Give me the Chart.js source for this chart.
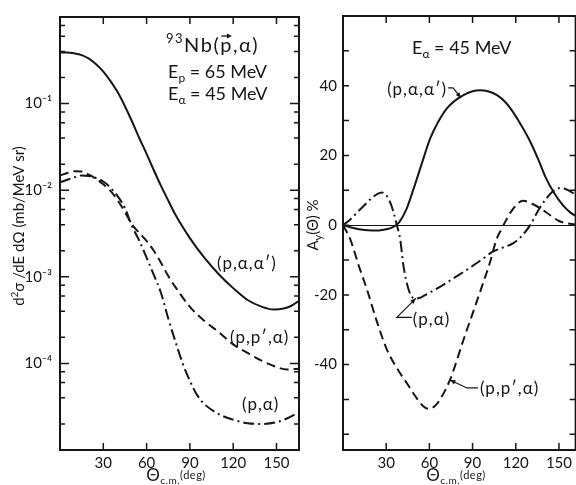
<!DOCTYPE html>
<html>
<head>
<meta charset="utf-8">
<script src="https://cdn.jsdelivr.net/npm/chart.js@4.4.1/dist/chart.umd.min.js"></script>
<style>
  html, body { margin: 0; padding: 0; background: #fff; }
  #wrap { position: relative; width: 576px; height: 485px; }
  #wrap canvas { position: absolute; left: 0; top: 0; }
</style>
</head>
<body>
<div id="wrap">
  <canvas id="sigmaChart" width="576" height="485"></canvas>
  <canvas id="ayChart" width="576" height="485"></canvas>
</div>
<script>
// left panel: d2sigma/dE dOmega (mb/MeV sr) vs theta c.m. (deg)
const angleAAP = [0, 5, 10, 15, 20, 25, 30, 35, 40, 45, 50, 55, 60, 65, 70, 75, 80, 90, 100, 110, 120, 130, 140, 148, 155, 160, 165];
const sigmaAAP = [0.389, 0.389, 0.380, 0.363, 0.331, 0.285, 0.234, 0.182, 0.135, 0.0933, 0.0617, 0.0398, 0.0263, 0.017, 0.0112, 0.0076, 0.0052, 0.0028, 0.00166, 0.00107, 0.00074, 0.00054, 0.00045, 0.00042, 0.00043, 0.00046, 0.00052];

const anglePPA = [0, 5, 10, 15, 20, 25, 30, 35, 40, 45, 50, 55, 60, 65, 70, 75, 80, 90, 100, 110, 120, 130, 140, 150, 157, 165];
const sigmaPPA = [0.0148, 0.0158, 0.0166, 0.0164, 0.0151, 0.0135, 0.0117, 0.0098, 0.0076, 0.0056, 0.0040, 0.0032, 0.0026, 0.0020, 0.00145, 0.00102, 0.00076, 0.00045, 0.00031, 0.00023, 0.000166, 0.000132, 0.000107, 0.000091, 0.000085, 0.000087];

const anglePA = [0, 5, 10, 15, 20, 25, 30, 35, 40, 45, 50, 55, 60, 65, 70, 75, 80, 85, 90, 95, 100, 110, 120, 130, 140, 150, 158, 165];
const sigmaPA = [0.0123, 0.0132, 0.0141, 0.0148, 0.0146, 0.0138, 0.0126, 0.0107, 0.0085, 0.0062, 0.0038, 0.0026, 0.00166, 0.00105, 0.00065, 0.00033, 0.000178, 0.0001, 0.000063, 0.000043, 0.000034, 0.000026, 0.0000224, 0.0000204, 0.00002, 0.0000209, 0.0000234, 0.0000269];

// right panel: analysing power Ay (%) vs theta c.m. (deg)
const angleAyAAP = [0, 5, 10, 15, 20, 25, 30, 35, 39, 44, 49, 55, 60.5, 66, 72, 78, 84, 90, 95, 100, 107, 113, 118, 124, 130, 136, 141, 147, 153, 158, 162];
const ayAAP = [0, -0.6, -1.1, -1.4, -1.5, -1.5, -1.2, -0.5, 0.8, 4.5, 10.4, 18, 24.8, 29.5, 33.4, 35.8, 37.4, 38.4, 38.7, 38.5, 37.3, 35.2, 32.5, 28.5, 24, 18.5, 13.5, 9, 5.6, 3.6, 2.6];

const angleAyPA = [0, 5, 10, 15, 20, 24, 27, 30, 33, 35, 37.4, 39.7, 42, 45.5, 48, 50, 53, 56, 64, 72, 80, 90, 98, 104, 110, 118, 124, 130, 136, 141, 146, 150, 155, 162];
const ayPA = [0, 1.6, 3.7, 5.8, 7.8, 9.0, 9.4, 8.6, 6.3, 3.8, 0, -4, -11.7, -18.4, -20.6, -21.1, -20.9, -20.3, -18.5, -16.5, -14.4, -11.7, -9.4, -7.6, -6.6, -5.2, -3.2, 0, 4.5, 7.5, 9.8, 10.6, 10.3, 8.6];

const angleAyPPA = [0, 5, 11, 16.6, 23.5, 30.5, 37.4, 44.3, 51.3, 56, 60, 64, 67.4, 74.3, 83.6, 95, 102, 106.7, 110, 113, 118, 125, 132, 141, 150, 156, 162];
const ayPPA = [0, -4, -11.7, -18.4, -27.6, -35.7, -41, -45.3, -49.7, -52, -52.7, -51.8, -50, -44.4, -33, -19.4, -10.8, -4, -1.2, 1.2, 4.6, 7.0, 6.0, 3.7, 1.2, 0.5, 0.2];

// ticks
const angleTicks = [30, 60, 90, 120, 150];
const sigmaDecades = [1e-4, 1e-3, 1e-2, 1e-1];
const sigmaTickLabels = ['10⁻⁴', '10⁻³', '10⁻²', '10⁻¹'];
const ayTicks = [-40, -20, 0, 20, 40];

const FONT = 'Lato, "DejaVu Sans", sans-serif';
const INK = '#161616';
Chart.defaults.font.family = FONT;
Chart.defaults.color = INK;

const DASHED = [9, 5];
const DASHDOT = [11, 4, 2, 4];

function pts(xs, ys) {
    return xs.map((x, i) => ({ x: x, y: ys[i] }));
}

function curve(xs, ys, dash) {
    return {
        data: pts(xs, ys),
        showLine: true,
        borderColor: INK,
        borderWidth: 2,
        borderDash: dash,
        pointRadius: 0,
        cubicInterpolationMode: 'monotone',
        fill: false
    };
}

// text made of pieces of different size / offset, drawn along one baseline
function drawRich(ctx, parts, x, y, align, spacing) {
    ctx.letterSpacing = (spacing || 0) + 'px';
    let w = 0;
    parts.forEach(p => { ctx.font = p.s + 'px ' + FONT; p.w = ctx.measureText(p.t).width; w += p.w; });
    let cx = align === 'center' ? x - w / 2 : (align === 'right' ? x - w : x);
    ctx.textAlign = 'left';
    ctx.textBaseline = 'alphabetic';
    parts.forEach(p => {
        ctx.font = p.s + 'px ' + FONT;
        ctx.fillText(p.t, cx, y + (p.dy || 0));
        p.x = cx;
        cx += p.w;
    });
    ctx.letterSpacing = '0px';
    return parts;
}

function label(ctx, text, x, y, align) {
    drawRich(ctx, [{ t: text, s: 17 }], x, y, align, 1);
}

function frameAndTicks(chart, yMajor, yMinor, majLen, minLen) {
    const { ctx, chartArea: a, scales } = chart;
    ctx.save();
    ctx.strokeStyle = INK;
    ctx.lineWidth = 1.5;
    ctx.beginPath();
    angleTicks.forEach(v => {
        const px = scales.x.getPixelForValue(v);
        ctx.moveTo(px, a.bottom); ctx.lineTo(px, a.bottom - 7);
        ctx.moveTo(px, a.top); ctx.lineTo(px, a.top + 7);
    });
    yMajor.forEach(v => {
        const py = scales.y.getPixelForValue(v);
        ctx.moveTo(a.left, py); ctx.lineTo(a.left + majLen, py);
        ctx.moveTo(a.right, py); ctx.lineTo(a.right - majLen, py);
    });
    yMinor.forEach(v => {
        const py = scales.y.getPixelForValue(v);
        ctx.moveTo(a.left, py); ctx.lineTo(a.left + minLen, py);
        ctx.moveTo(a.right, py); ctx.lineTo(a.right - minLen, py);
    });
    ctx.stroke();
    ctx.lineWidth = 2;
    ctx.strokeRect(a.left, a.top, a.right - a.left, a.bottom - a.top);
    ctx.restore();
}

function thetaTitle(ctx, cx, y) {
    drawRich(ctx, [
        { t: 'Θ', s: 17 },
        { t: 'c.m.', s: 10, dy: 3 },
        { t: '(deg)', s: 11, dy: -2 }
    ], cx, y, 'center', 0.5);
}

function leader(ctx, path) {
    ctx.beginPath();
    ctx.moveTo(path[0][0], path[0][1]);
    path.slice(1).forEach(p => ctx.lineTo(p[0], p[1]));
    ctx.stroke();
    const [x0, y0] = path[path.length - 2];
    const [x1, y1] = path[path.length - 1];
    const ang = Math.atan2(y1 - y0, x1 - x0);
    ctx.beginPath();
    ctx.moveTo(x1, y1);
    ctx.lineTo(x1 - 6 * Math.cos(ang - 0.4), y1 - 6 * Math.sin(ang - 0.4));
    ctx.lineTo(x1 - 6 * Math.cos(ang + 0.4), y1 - 6 * Math.sin(ang + 0.4));
    ctx.closePath();
    ctx.fill();
}

// log-scale tick marks: decades long, 2-4-6-8 short
const sigmaMajorMarks = [1e-4, 1e-3, 1e-2, 1e-1];
const sigmaMinorMarks = [];
[1e-5, 1e-4, 1e-3, 1e-2, 1e-1].forEach(d => [2, 4, 6, 8].forEach(m => sigmaMinorMarks.push(m * d)));
const ayMarks = [-60, -50, -40, -30, -20, -10, 0, 10, 20, 30, 40, 50];

const sigmaDeco = {
    id: 'sigmaDeco',
    afterDraw(chart) {
        const ctx = chart.ctx;
        frameAndTicks(chart, sigmaMajorMarks, sigmaMinorMarks, 9, 5);
        ctx.save();
        ctx.fillStyle = INK;
        ctx.strokeStyle = INK;
        const head = drawRich(ctx, [
            { t: '93', s: 13, dy: -9 },
            { t: 'Nb(', s: 20 },
            { t: 'p', s: 20 },
            { t: ',α)', s: 20 }
        ], 166, 52, 'left', 1.5);
        // polarisation arrow over p
        const p = head[2];
        ctx.lineWidth = 1.3;
        ctx.beginPath();
        ctx.moveTo(p.x + 1, 36); ctx.lineTo(p.x + p.w - 3, 36);
        ctx.stroke();
        ctx.beginPath();
        ctx.moveTo(p.x + p.w - 1, 36); ctx.lineTo(p.x + p.w - 6, 33.5); ctx.lineTo(p.x + p.w - 6, 38.5);
        ctx.closePath(); ctx.fill();

        drawRich(ctx, [{ t: 'E', s: 18 }, { t: 'p', s: 12, dy: 4 }, { t: ' = 65 MeV', s: 18 }], 168, 78, 'left');
        drawRich(ctx, [{ t: 'E', s: 18 }, { t: 'α', s: 12, dy: 4 }, { t: ' = 45 MeV', s: 18 }], 168, 100, 'left');

        label(ctx, '(p,α,α′)', 217, 269, 'left');
        label(ctx, '(p,p′,α)', 230, 343, 'left');
        label(ctx, '(p,α)', 242, 410, 'left');

        thetaTitle(ctx, 176, 481);

        ctx.save();
        ctx.translate(24, 226);
        ctx.rotate(-Math.PI / 2);
        drawRich(ctx, [
            { t: 'd', s: 15 },
            { t: '2', s: 10, dy: -6 },
            { t: 'σ /dE dΩ (mb/MeV sr)', s: 15 }
        ], 0, 0, 'center');
        ctx.restore();
        ctx.restore();
    }
};

const ayDeco = {
    id: 'ayDeco',
    afterDraw(chart) {
        const ctx = chart.ctx;
        const { x: xs, y: ys } = chart.scales;
        frameAndTicks(chart, ayMarks, [], 6, 6);
        ctx.save();
        ctx.fillStyle = INK;
        ctx.strokeStyle = INK;
        ctx.lineWidth = 1.2;
        drawRich(ctx, [{ t: 'E', s: 18 }, { t: 'α', s: 12, dy: 4 }, { t: ' = 45 MeV', s: 18 }], 412, 54, 'left');

        // (p,alpha,alpha') hook
        let tx = xs.getPixelForValue(82), ty = ys.getPixelForValue(36.5);
        label(ctx, '(p,α,α′)', tx - 14, ty - 3, 'right');
        leader(ctx, [[tx - 13, ty - 10], [tx - 8, ty - 10], [tx, ty]]);
        // (p,alpha)
        tx = xs.getPixelForValue(50.6); ty = ys.getPixelForValue(-21);
        label(ctx, '(p,α)', tx - 3, ty + 27, 'left');
        leader(ctx, [[tx - 4, ty + 19], [tx - 19, ty + 19], [tx, ty]]);
        // (p,p',alpha)
        tx = xs.getPixelForValue(74.3); ty = ys.getPixelForValue(-44.4);
        label(ctx, '(p,p′,α)', tx + 30, ty + 14, 'left');
        leader(ctx, [[tx + 28, ty + 8], [tx + 17, ty + 8], [tx, ty]]);

        thetaTitle(ctx, 456, 481);

        ctx.save();
        ctx.translate(318, 225);
        ctx.rotate(-Math.PI / 2);
        drawRich(ctx, [
            { t: 'A', s: 15 },
            { t: 'y', s: 11, dy: 4 },
            { t: '(Θ) %', s: 15 }
        ], 0, 0, 'center');
        ctx.restore();
        ctx.restore();
    }
};

function angleAxis(max) {
    return {
        type: 'linear',
        min: 0,
        max: max,
        afterBuildTicks: s => { s.ticks = angleTicks.map(v => ({ value: v })); },
        afterFit: s => { s.height = 35; },
        grid: { display: false, drawTicks: false },
        border: { display: false },
        ticks: { padding: 4, font: { size: 15 }, color: INK, maxRotation: 0, autoSkip: false }
    };
}

new Chart(document.getElementById('sigmaChart'), {
    type: 'scatter',
    data: {
        datasets: [
            curve(angleAAP, sigmaAAP, []),
            curve(anglePPA, sigmaPPA, DASHED),
            curve(anglePA, sigmaPA, DASHDOT)
        ]
    },
    options: {
        responsive: false,
        animation: false,
        events: [],
        layout: { padding: { left: 0, right: 277, top: 12, bottom: 0 } },
        plugins: { legend: { display: false }, tooltip: { enabled: false } },
        scales: {
            x: angleAxis(165.6),
            y: {
                type: 'logarithmic',
                min: 1e-5,
                max: 1,
                afterBuildTicks: s => { s.ticks = sigmaDecades.map(v => ({ value: v })); },
                afterFit: s => { s.width = 60; },
                grid: { display: false, drawTicks: false },
                border: { display: false },
                ticks: {
                    padding: 8, font: { size: 15 }, color: INK, autoSkip: false,
                    callback: (v, i) => sigmaTickLabels[i]
                }
            }
        }
    },
    plugins: [sigmaDeco]
});

new Chart(document.getElementById('ayChart'), {
    type: 'scatter',
    data: {
        datasets: [
            curve(angleAyAAP, ayAAP, []),
            curve(angleAyPPA, ayPPA, DASHED),
            curve(angleAyPA, ayPA, DASHDOT)
        ]
    },
    options: {
        responsive: false,
        animation: false,
        events: [],
        layout: { padding: { left: 299, right: 0, top: 16, bottom: 0 } },
        plugins: { legend: { display: false }, tooltip: { enabled: false } },
        scales: {
            x: angleAxis(161.6),
            y: {
                type: 'linear',
                min: -64.5,
                max: 60,
                afterBuildTicks: s => { s.ticks = ayTicks.map(v => ({ value: v })); },
                afterFit: s => { s.width = 44; },
                grid: {
                    display: true, drawTicks: false, lineWidth: 1,
                    color: c => (c.tick && c.tick.value === 0 ? INK : 'rgba(0,0,0,0)')
                },
                border: { display: false },
                ticks: { padding: 6, font: { size: 15 }, color: INK, autoSkip: false }
            }
        }
    },
    plugins: [ayDeco]
});
</script>
</body>
</html>
